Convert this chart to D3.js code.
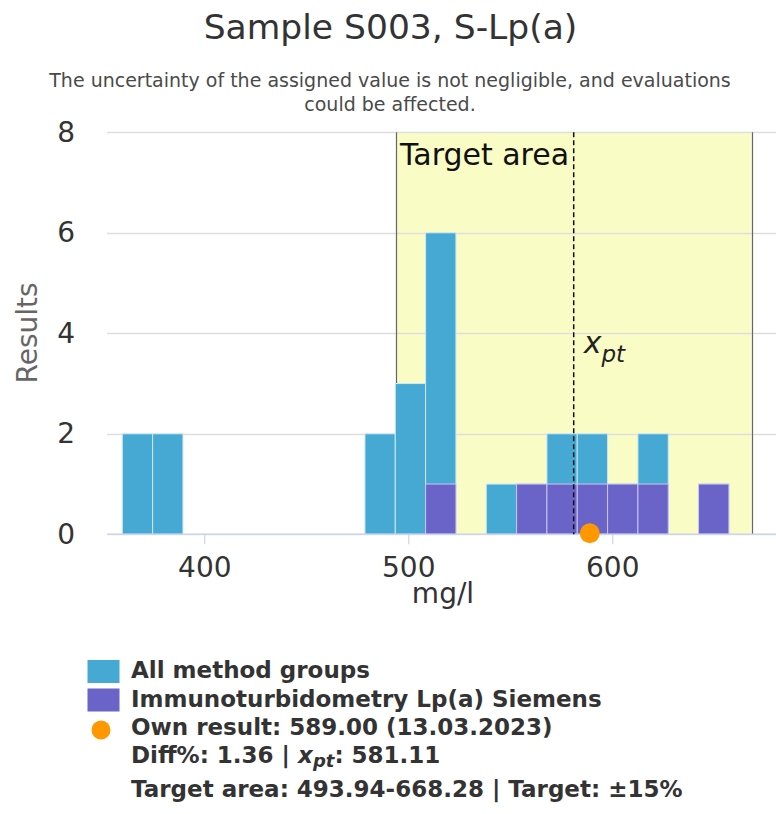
<!DOCTYPE html>
<html><head><meta charset="utf-8">
<script src="https://cdn.jsdelivr.net/npm/d3@7"></script>
<style>
html,body{margin:0;padding:0;background:#fff;}
text{font-family:"DejaVu Sans",sans-serif;}
</style></head>
<body><svg id="c" width="776" height="814"></svg>
<script>
// ---- data ----
const binStarts = [359.8,374.67,389.54,404.41,419.28,434.15,449.02,463.89,478.76,493.63,508.5,523.37,538.24,553.11,567.98,582.85,597.72,612.59,627.46,642.33,657.2];
const binWidth = 14.87;
const allCounts = [2,2,0,0,0,0,0,0,2,3,6,0,1,1,2,2,1,2,0,1,0];
const groupCounts = [0,0,0,0,0,0,0,0,0,0,1,0,0,1,1,1,1,1,0,1,0];
const xTicks = [400,500,600];
const yTicks = [0,2,4,6,8];
const targetLow = 493.94, targetHigh = 668.28;
const xpt = 581.11;
const ownResult = 589.00;
const titleText = "Sample S003, S-Lp(a)";
const subtitleLines = ["The uncertainty of the assigned value is not negligible, and evaluations","could be affected."];
const legendItems = ["All method groups","Immunoturbidometry Lp(a) Siemens","Own result: 589.00 (13.03.2023)"];

const svg = d3.select("#c");
const x = d3.scaleLinear().domain([352.3,679.8]).range([107,775]);
const y = d3.scaleLinear().domain([0,8]).range([534.3,132.3]);
const BLUE="#45a9d4", PURPLE="#6a63c8", YELLOW="#fafcc5", ORANGE="#ff9800";

// title
svg.append("text").attr("x",390.5).attr("y",39).attr("text-anchor","middle")
  .attr("font-size",34.5).attr("fill","#333").text(titleText);
subtitleLines.forEach((t,i)=>svg.append("text").attr("x",390).attr("y",87+i*24)
  .attr("text-anchor","middle").attr("font-size",19).attr("fill","#4a4a4a").text(t));

// target area band
svg.append("rect").attr("x",x(targetLow)).attr("y",y(8)).attr("width",x(targetHigh)-x(targetLow))
  .attr("height",y(0)-y(8)).attr("fill",YELLOW);

// gridlines
svg.append("g").selectAll("line").data(yTicks).join("line")
  .attr("x1",107).attr("x2",776).attr("y1",d=>Math.round(y(d))+0.5).attr("y2",d=>Math.round(y(d))+0.5)
  .attr("stroke","#dedede").attr("stroke-width",1.3);

// target borders
[targetLow,targetHigh].forEach(v=>svg.append("line").attr("x1",Math.round(x(v))+0.5).attr("x2",Math.round(x(v))+0.5)
  .attr("y1",y(8)).attr("y2",y(0)).attr("stroke","#666").attr("stroke-width",1.2));

// bars
const bins = binStarts.map((s,i)=>({s,all:allCounts[i],grp:groupCounts[i]}));
svg.append("g").selectAll("rect").data(bins.filter(d=>d.all>0)).join("rect")
  .attr("x",d=>x(d.s)).attr("width",d=>x(d.s+binWidth)-x(d.s))
  .attr("y",d=>y(d.all)).attr("height",d=>y(0)-y(d.all))
  .attr("fill",BLUE).attr("stroke","#cfe8f4").attr("stroke-width",1);
svg.append("g").selectAll("rect").data(bins.filter(d=>d.grp>0)).join("rect")
  .attr("x",d=>x(d.s)).attr("width",d=>x(d.s+binWidth)-x(d.s))
  .attr("y",d=>y(d.grp)).attr("height",d=>y(0)-y(d.grp))
  .attr("fill",PURPLE).attr("stroke","#c9c6ee").attr("stroke-width",1);

// x axis
const xAxis = d3.axisBottom(x).tickValues(xTicks).tickSize(10).tickPadding(13).tickFormat(d3.format("d"));
const gx = svg.append("g").attr("transform",`translate(0,${y(0)})`).call(xAxis);
gx.select(".domain").attr("stroke","#ccd6eb").attr("stroke-width",1.5).attr("d","M107,0H776");
gx.selectAll(".tick line").attr("stroke","#ccd6eb").attr("stroke-width",1.2);
gx.selectAll(".tick text").attr("font-size",28).attr("fill","#333").attr("font-family","DejaVu Sans");

// y axis labels
const yAxis = d3.axisLeft(y).tickValues(yTicks).tickSize(0).tickPadding(32);
const gy = svg.append("g").attr("transform","translate(107,0)").call(yAxis);
gy.select(".domain").remove();
gy.selectAll(".tick text").attr("font-size",28).attr("fill","#333").attr("font-family","DejaVu Sans");

// axis titles
svg.append("text").attr("x",443).attr("y",603).attr("text-anchor","middle").attr("font-size",28).attr("fill","#333").text("mg/l");
svg.append("text").attr("transform","translate(37,333) rotate(-90)").attr("text-anchor","middle")
  .attr("font-size",28).attr("fill","#666").text("Results");

// xpt line
svg.append("line").attr("x1",x(xpt)).attr("x2",x(xpt)).attr("y1",y(8)).attr("y2",y(0))
  .attr("stroke","#111").attr("stroke-width",1.5).attr("stroke-dasharray","5,3");

// labels
svg.append("text").attr("x",x(targetLow)+4).attr("y",165).attr("font-size",30).attr("fill","#111").text("Target area");
const xl = svg.append("text").attr("x",x(xpt)+10).attr("y",353).attr("font-size",30).attr("font-style","italic").attr("fill","#222");
xl.append("tspan").text("x");
xl.append("tspan").attr("dy",9).attr("font-size",23).text("pt");

// own result dot
svg.append("circle").attr("cx",x(ownResult)).attr("cy",y(0)-1).attr("r",10).attr("fill",ORANGE);

// legend
const lg = svg.append("g");
const lx = 131;
lg.append("rect").attr("x",87.5).attr("y",660).attr("width",32).attr("height",23).attr("fill",BLUE);
lg.append("rect").attr("x",87.5).attr("y",688.5).attr("width",32).attr("height",23).attr("fill",PURPLE);
lg.append("circle").attr("cx",101).attr("cy",730).attr("r",9.5).attr("fill",ORANGE);
const lfs = 23;
legendItems.forEach((t,i)=>lg.append("text").attr("x",lx).attr("y",[678,707,735][i]).attr("font-size",lfs)
  .attr("font-weight","bold").attr("fill","#333").text(t));
const l4 = lg.append("text").attr("x",lx).attr("y",763).attr("font-size",lfs).attr("font-weight","bold").attr("fill","#333");
l4.append("tspan").text("Diff%: 1.36 | ");
l4.append("tspan").attr("font-style","italic").text("x");
l4.append("tspan").attr("font-style","italic").attr("font-size",18).attr("dy",4).text("pt");
l4.append("tspan").attr("dy",-4).text(": 581.11");
lg.append("text").attr("x",lx).attr("y",797).attr("font-size",lfs).attr("font-weight","bold").attr("fill","#333")
  .text("Target area: 493.94-668.28 | Target: ±15%");
</script></body></html>
